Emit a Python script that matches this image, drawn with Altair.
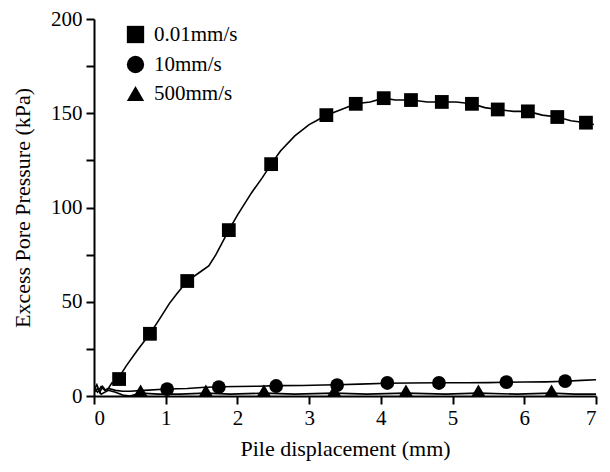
import altair as alt
import pandas as pd

# ---- data ----
series_names = ["0.01mm/s", "10mm/s", "500mm/s"]

# dense line traces
sq_line_x = [0, 0.04, 0.08, 0.12, 0.16, 0.2, 0.25, 0.3, 0.35, 0.45, 0.6, 0.78, 0.9, 1.05, 1.15, 1.3, 1.45,
             1.6, 1.7, 1.88, 2.0, 2.2, 2.35, 2.47, 2.6, 2.8, 3.0, 3.1, 3.24, 3.45, 3.65, 3.85, 4.04, 4.2,
             4.42, 4.65, 4.85, 5.05, 5.27, 5.45, 5.63, 5.85, 6.05, 6.25, 6.46, 6.65, 6.86, 6.97]
sq_line_y = [3, 6, 2, 5, 3, 4, 7, 6, 10, 16, 24, 33, 40, 49, 54, 61, 65,
             69, 75, 88, 96, 108, 116, 123, 130, 138, 144, 146, 149, 152, 155, 156, 158, 157,
             157, 156, 156, 156, 155, 153, 152, 151, 151, 149, 148, 146, 145, 144]

ci_line_x = [0, 0.05, 0.1, 0.15, 0.2, 0.3, 0.4, 0.5, 0.7, 1.02, 1.3, 1.5, 1.74, 2.0, 2.3, 2.54, 2.9, 3.2,
             3.39, 3.7, 4.09, 4.4, 4.81, 5.2, 5.5, 5.75, 6.0, 6.3, 6.57, 6.8, 7.0]
ci_line_y = [4, 2, 5, 3, 4, 3, 2.5, 2.5, 3, 3.7, 4, 4.5, 4.9, 5, 5.2, 5.5, 5.6, 5.8,
             6, 6.3, 6.8, 6.9, 7, 7, 7.1, 7.3, 7.4, 7.5, 7.8, 8.3, 8.6]

tr_line_x = [0, 0.05, 0.1, 0.2, 0.3, 0.4, 0.5, 0.65, 0.9, 1.2, 1.56, 1.9, 2.37, 2.8, 3.35, 3.8, 4.35,
             4.9, 5.36, 5.9, 6.38, 6.7, 7.0]
tr_line_y = [2, 4, 1, 3, 2, 0.5, 0, 1.5, 1, 1, 1.5, 1, 1.5, 1, 1.5, 1, 1.5,
             1, 1.5, 1, 1.5, 1, 1]

# marker positions
sq_mark_x = [0.35, 0.78, 1.30, 1.88, 2.47, 3.24, 3.65, 4.04, 4.42, 4.85, 5.27, 5.63, 6.05, 6.46, 6.86]
sq_mark_y = [9, 33, 61, 88, 123, 149, 155, 158, 157, 156, 155, 152, 151, 148, 145]

ci_mark_x = [1.02, 1.74, 2.54, 3.39, 4.09, 4.81, 5.75, 6.57]
ci_mark_y = [3.7, 4.7, 5.3, 5.8, 6.9, 6.9, 7.4, 7.9]

tr_mark_x = [0.65, 1.56, 2.37, 3.35, 4.35, 5.36, 6.38]
tr_mark_y = [3, 3, 3, 3, 3, 3, 3]

x_ticks = [0, 1, 2, 3, 4, 5, 6, 7]
y_ticks = [0, 25, 50, 75, 100, 125, 150, 175, 200]

x_title = "Pile displacement (mm)"
y_title = "Excess Pore Pressure (kPa)"

# ---- tables ----
lines = pd.concat([
    pd.DataFrame({"x": sq_line_x, "y": sq_line_y, "s": series_names[0]}),
    pd.DataFrame({"x": ci_line_x, "y": ci_line_y, "s": series_names[1]}),
    pd.DataFrame({"x": tr_line_x, "y": tr_line_y, "s": series_names[2]}),
])
marks = pd.concat([
    pd.DataFrame({"x": sq_mark_x, "y": sq_mark_y, "s": series_names[0]}),
    pd.DataFrame({"x": ci_mark_x, "y": ci_mark_y, "s": series_names[1]}),
    pd.DataFrame({"x": tr_mark_x, "y": tr_mark_y, "s": series_names[2]}),
])

FONT = "Liberation Serif"

xs = alt.X("x:Q", scale=alt.Scale(domain=[0, 7], nice=False, zero=False),
           axis=alt.Axis(values=x_ticks, title=x_title, format="d", grid=False,
                         tickSize=8, labelPadding=3, titlePadding=10))
ys = alt.Y("y:Q", scale=alt.Scale(domain=[0, 200], nice=False),
           axis=alt.Axis(values=y_ticks, title=y_title, grid=False, tickSize=8,
                         labelPadding=4, titlePadding=16,
                         labelExpr="datum.value % 50 == 0 ? datum.label : ''"))

line_layer = alt.Chart(lines).mark_line(color="black", strokeWidth=1.6, clip=True).encode(
    x=xs, y=ys, detail="s:N")

point_layer = alt.Chart(marks).mark_point(filled=True, color="black", opacity=1, size=190).encode(
    x=xs, y=ys,
    shape=alt.Shape("s:N",
                    scale=alt.Scale(domain=series_names, range=["square", "circle", "triangle-up"]),
                    legend=alt.Legend(title=None, orient="none", legendX=31, legendY=5,
                                      symbolSize=300, symbolFillColor="black", symbolStrokeColor="black",
                                      labelFontSize=21, labelFont=FONT, labelColor="black",
                                      rowPadding=5, labelOffset=8, padding=0)),
)

chart = (line_layer + point_layer).properties(
    width=502, height=377,
    autosize=alt.AutoSizeParams(type="none"),
    padding={"left": 86, "top": 11, "right": 6, "bottom": 68},
).configure_view(stroke=None).configure_axis(
    domainColor="black", domainWidth=2, tickColor="black", tickWidth=2,
    labelFont=FONT, labelFontSize=21, labelColor="black",
    titleFont=FONT, titleFontSize=22, titleColor="black", titleFontWeight="normal",
)

chart.save("out.html", embed_options={"renderer": "svg", "actions": False})
